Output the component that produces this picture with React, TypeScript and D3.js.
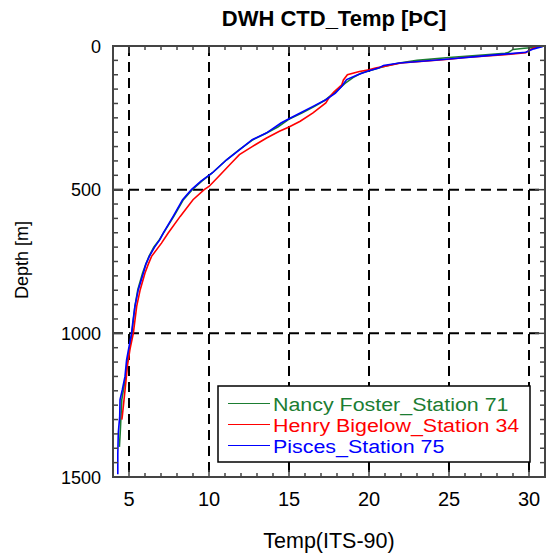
import React, { useEffect, useRef } from 'react';
import * as d3 from 'd3';

// Nancy Foster_Station 71
const nancyDepth = [0, 5, 8, 12, 23, 25, 30, 40, 50, 59, 70, 80, 95, 110, 130, 150, 187, 210, 233, 253, 282, 303, 326, 361, 396, 442, 470, 500, 535, 593, 651, 674, 700, 732, 760, 790, 848, 906, 965, 1000, 1047, 1092, 1150, 1197, 1231, 1289, 1347, 1395];
const nancyTemp = [31.0, 30.3, 29.7, 29.0, 28.7, 28.5, 27.5, 25.0, 23.0, 21.9, 21.0, 20.4, 19.5, 19.0, 18.5, 18.1, 17.3, 16.6, 15.8, 15.05, 14.3, 13.6, 12.75, 11.9, 11.1, 10.2, 9.55, 8.95, 8.4, 7.8, 7.15, 6.9, 6.55, 6.25, 6.05, 5.85, 5.55, 5.37, 5.25, 5.18, 5.05, 4.9, 4.8, 4.65, 4.55, 4.5, 4.45, 4.4];

// Henry Bigelow_Station 34
const henryDepth = [0, 4, 12, 23, 30, 40, 46, 59, 77, 83, 89, 100, 118, 135, 160, 180, 198, 233, 262, 282, 297, 320, 350, 378, 407, 454, 489, 500, 535, 593, 651, 686, 732, 760, 790, 848, 906, 1000, 1056, 1114, 1172, 1231, 1289, 1300];
const henryTemp = [30.5, 30.4, 30.1, 29.8, 28.5, 26.0, 25.0, 22.0, 20.4, 20.0, 19.4, 18.65, 18.4, 18.3, 17.8, 17.5, 17.3, 16.5, 15.7, 15.0, 14.4, 13.6, 12.7, 11.9, 11.4, 10.6, 10.0, 9.7, 9.0, 8.2, 7.45, 7.03, 6.41, 6.2, 6.0, 5.7, 5.48, 5.27, 5.06, 4.9, 4.8, 4.69, 4.58, 4.55];

// Pisces_Station 75
const piscesDepth = [0, 3, 10, 22, 30, 38, 45, 52, 59, 68, 77, 88, 100, 117, 140, 164, 187, 210, 233, 253, 268, 303, 326, 361, 396, 442, 470, 500, 535, 593, 651, 674, 700, 732, 760, 790, 848, 906, 965, 1000, 1047, 1092, 1150, 1197, 1231, 1289, 1347, 1420, 1490];
const piscesTemp = [30.9, 30.8, 30.3, 29.8, 28.1, 26.5, 25.0, 23.5, 21.9, 20.9, 20.6, 19.9, 19.3, 18.6, 18.3, 17.9, 17.3, 16.5, 15.7, 15.0, 14.5, 13.58, 12.7, 11.92, 11.1, 10.2, 9.5, 8.9, 8.35, 7.76, 7.14, 6.93, 6.6, 6.27, 6.05, 5.9, 5.58, 5.37, 5.23, 5.16, 5.0, 4.85, 4.75, 4.58, 4.44, 4.42, 4.33, 4.3, 4.3];

const seriesNames = ['Nancy Foster_Station 71', 'Henry Bigelow_Station 34', 'Pisces_Station 75'];
const seriesColors = ['#1b7d32', '#ff0000', '#0000ff'];

const xTicks = [5, 10, 15, 20, 25, 30];
const yTicks = [0, 500, 1000, 1500];

const App = () => {
  const ref = useRef<SVGSVGElement>(null);

  useEffect(() => {
    const svg = d3.select(ref.current);
    svg.selectAll('*').remove();

    const left = 113, right = 545, top = 46, bottom = 477;
    const font = 'Liberation Sans, Arial, sans-serif';

    const x = d3.scaleLinear().domain([4, 31]).range([left, right]);
    const y = d3.scaleLinear().domain([0, 1500]).range([top, bottom]);

    const series = [
      { depth: nancyDepth, temp: nancyTemp },
      { depth: henryDepth, temp: henryTemp },
      { depth: piscesDepth, temp: piscesTemp },
    ];

    // dashed grid
    const grid = svg.append('g');
    grid.selectAll('.vg')
      .data(xTicks)
      .enter()
      .append('line')
      .attr('x1', d => x(d)).attr('x2', d => x(d))
      .attr('y1', top).attr('y2', bottom)
      .attr('stroke', '#000').attr('stroke-width', 2)
      .attr('stroke-dasharray', '10,6');
    grid.selectAll('.hg')
      .data([500, 1000])
      .enter()
      .append('line')
      .attr('x1', left).attr('x2', right)
      .attr('y1', d => y(d)).attr('y2', d => y(d))
      .attr('stroke', '#000').attr('stroke-width', 2)
      .attr('stroke-dasharray', '10,6');

    // profiles
    const path = d3.line<[number, number]>()
      .x(d => x(d[0]))
      .y(d => y(d[1]));

    series.forEach((s, k) => {
      const pts = s.depth.map((dp, i) => [s.temp[i], dp] as [number, number]);
      svg.append('path')
        .attr('d', path(pts))
        .attr('fill', 'none')
        .attr('stroke', seriesColors[k])
        .attr('stroke-width', 1.6);
    });

    // frame
    svg.append('rect')
      .attr('x', left).attr('y', top)
      .attr('width', right - left).attr('height', bottom - top)
      .attr('fill', 'none').attr('stroke', '#444').attr('stroke-width', 2);

    // inward ticks
    const ticks = svg.append('g').attr('stroke', '#444').attr('stroke-width', 1.5);
    d3.range(5, 31).forEach(t => {
      const len = t % 5 === 0 ? 7 : 4;
      ticks.append('line').attr('x1', x(t)).attr('x2', x(t)).attr('y1', top).attr('y2', top + len);
      ticks.append('line').attr('x1', x(t)).attr('x2', x(t)).attr('y1', bottom).attr('y2', bottom - len);
    });
    d3.range(50, 1500, 50).forEach(dp => {
      const len = dp % 500 === 0 ? 10 : 5;
      ticks.append('line').attr('x1', left).attr('x2', left + len).attr('y1', y(dp)).attr('y2', y(dp));
      ticks.append('line').attr('x1', right).attr('x2', right - len).attr('y1', y(dp)).attr('y2', y(dp));
    });

    // tick labels
    svg.selectAll('.xl')
      .data(xTicks)
      .enter()
      .append('text')
      .attr('x', d => x(d))
      .attr('y', 506)
      .attr('text-anchor', 'middle')
      .attr('font-family', font)
      .attr('font-size', 20)
      .text(d => d);
    svg.selectAll('.yl')
      .data(yTicks)
      .enter()
      .append('text')
      .attr('x', 101)
      .attr('y', d => y(d) + 6.5)
      .attr('text-anchor', 'end')
      .attr('font-family', font)
      .attr('font-size', 18)
      .text(d => d);

    // titles
    svg.append('text')
      .attr('x', 334).attr('y', 26)
      .attr('text-anchor', 'middle')
      .attr('font-family', font).attr('font-size', 22).attr('font-weight', 'bold')
      .text('DWH CTD_Temp [ÞC]');
    svg.append('text')
      .attr('x', 329).attr('y', 548)
      .attr('text-anchor', 'middle')
      .attr('font-family', font).attr('font-size', 21.5)
      .text('Temp(ITS-90)');
    svg.append('text')
      .attr('transform', 'translate(28,260) rotate(-90)')
      .attr('text-anchor', 'middle')
      .attr('font-family', font).attr('font-size', 18)
      .text('Depth [m]');

    // legend (text is a little wider than tall in the original, so stretch it)
    const lg = svg.append('g');
    lg.append('rect')
      .attr('x', 218).attr('y', 386)
      .attr('width', 312).attr('height', 76)
      .attr('fill', '#fff').attr('stroke', '#000').attr('stroke-width', 1.5);
    seriesNames.forEach((name, i) => {
      const ly = 403.5 + i * 21;
      lg.append('line')
        .attr('x1', 228).attr('x2', 270)
        .attr('y1', ly).attr('y2', ly)
        .attr('stroke', seriesColors[i]).attr('stroke-width', 1.2);
      const t = lg.append('text')
        .attr('x', 273).attr('y', ly + 7)
        .attr('font-family', font).attr('font-size', 18)
        .attr('fill', seriesColors[i])
        .text(name);
      const w = (t.node() as SVGTextElement).getComputedTextLength();
      t.attr('textLength', w * 21.4 / 18).attr('lengthAdjust', 'spacingAndGlyphs');
    });
  }, []);

  return (
    <svg ref={ref} width={547} height={556}
      style={{ position: 'absolute', left: 0, top: 0, background: '#fff' }} />
  );
};

export default App;
